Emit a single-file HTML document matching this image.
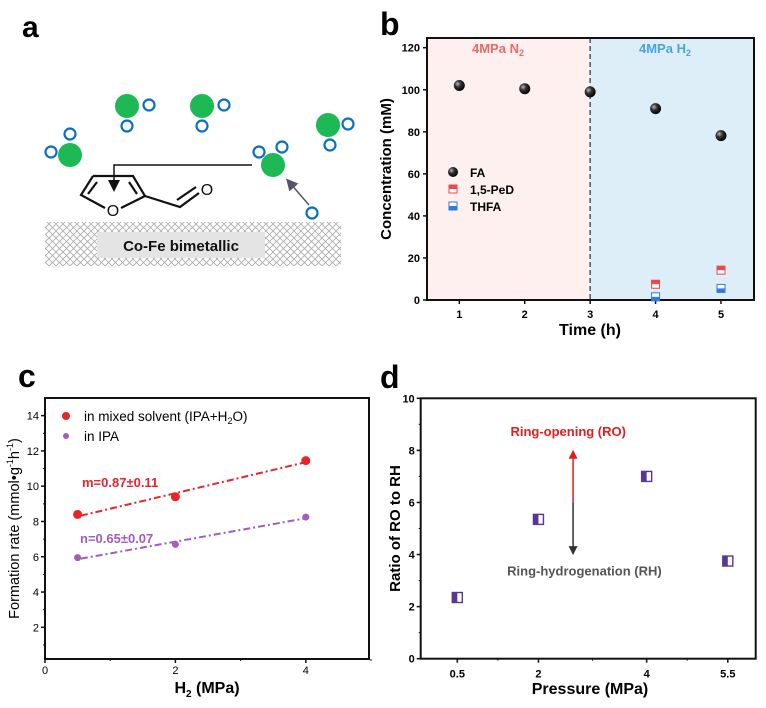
<!DOCTYPE html>
<html><head><meta charset="utf-8"><style>
html,body{margin:0;padding:0;background:#fff;}
svg{display:block;font-family:"Liberation Sans",Arial,sans-serif;}
</style></head><body>
<svg id="fig" width="766" height="708" viewBox="0 0 766 708" xmlns="http://www.w3.org/2000/svg">
<defs>
<pattern id="hatch" width="7" height="7" patternUnits="userSpaceOnUse">
<path d="M0,0 L7,7 M7,0 L0,7" stroke="#aaa" stroke-width="0.8"/>
</pattern>
<marker id="arrB" markerWidth="8" markerHeight="8" refX="4" refY="4" orient="auto"><path d="M0,0 L8,4 L0,8 z" fill="#111"/></marker>
<marker id="arrG" markerWidth="8" markerHeight="8" refX="4" refY="4" orient="auto"><path d="M0,0 L8,4 L0,8 z" fill="#556"/></marker>
<marker id="arrR" markerWidth="6" markerHeight="6" refX="3" refY="3" orient="auto"><path d="M0,0 L6,3 L0,6 z" fill="#e02020"/></marker>
<marker id="arrK" markerWidth="6" markerHeight="6" refX="3" refY="3" orient="auto"><path d="M0,0 L6,3 L0,6 z" fill="#333"/></marker>
<radialGradient id="ball" cx="0.35" cy="0.35" r="0.7"><stop offset="0" stop-color="#bbb"/><stop offset="0.4" stop-color="#333"/><stop offset="1" stop-color="#000"/></radialGradient>
</defs>

<g>
<text x="22" y="37" font-size="30" font-weight="bold">a</text>
<rect x="45" y="222" width="296" height="44" fill="url(#hatch)"/>
<rect x="97" y="232" width="168" height="26" fill="#e4e4e4"/>
<text x="181" y="251" font-size="15" font-weight="bold" text-anchor="middle" fill="#111">Co-Fe bimetallic</text>
<g fill="#1db954">
<circle cx="70" cy="155" r="12"/><circle cx="127" cy="106" r="12"/><circle cx="202" cy="106" r="12"/><circle cx="328" cy="125" r="12"/><circle cx="273" cy="165" r="12"/>
</g>
<g fill="none" stroke="#0a6fc2" stroke-width="2.2">
<circle cx="51" cy="152" r="5.5"/><circle cx="70" cy="134" r="5.5"/>
<circle cx="149" cy="105" r="5.5"/><circle cx="127" cy="126" r="5.5"/>
<circle cx="224" cy="105" r="5.5"/><circle cx="202" cy="126" r="5.5"/>
<circle cx="348" cy="124" r="5.5"/><circle cx="330" cy="145" r="5.5"/>
<circle cx="259" cy="152" r="5.5"/><circle cx="282" cy="147" r="5.5"/>
<circle cx="312" cy="213" r="5.5"/>
</g>
<line x1="309" y1="205" x2="290" y2="183" stroke="#556" stroke-width="1.5" marker-end="url(#arrG)"/>
<polyline points="252,165 114,165 114,186" fill="none" stroke="#111" stroke-width="1.5" marker-end="url(#arrB)"/>
<g fill="none" stroke="#111" stroke-width="2.2">
<path d="M93,176 L133,176 L145,196 L121,208 M105,208 L81,195 L93,176"/>
<path d="M97,182 L88,194 M129,182 L137,194"/>
<path d="M145,196 L180,207 L199,193"/>
<path d="M177,200 L196,187"/>
</g>
<text x="113" y="216" font-size="16" text-anchor="middle" fill="#111">O</text>
<text x="207" y="195" font-size="16" text-anchor="middle" fill="#111">O</text>
</g>

<g id="pb">
<text x="380" y="35" font-size="32" font-weight="bold">b</text>
</g>
<g id="pc">
<text x="18" y="387" font-size="32" font-weight="bold">c</text>
</g>
<g id="pd">
<text x="380" y="388" font-size="32" font-weight="bold">d</text>
</g>
</svg>
<script>
const NS="http://www.w3.org/2000/svg";
function mk(parent,tag,attrs,text){const e=document.createElementNS(NS,tag);for(const k in attrs)e.setAttribute(k,attrs[k]);if(text!==undefined)e.textContent=text;parent.appendChild(e);return e;}

const bTimes=[1,2,3,4,5];
const bFA=[102,100.5,99,91,78.2];
const bPeDTimes=[4,5];
const bPeD=[7.5,14.2];
const bTHFATimes=[4,5];
const bTHFA=[1.5,5.5];
const bYTicks=[0,20,40,60,80,100,120];
const bXTicks=[1,2,3,4,5];

const cPress=[0.5,2,4];
const cMixed=[8.4,9.4,11.45];
const cIPA=[5.95,6.7,8.25];
const cYTicks=[2,4,6,8,10,12,14];
const cXTicks=[0,2,4];

const dPress=[0.5,2,4,5.5];
const dRatio=[2.35,5.35,7.0,3.75];
const dYTicks=[0,2,4,6,8,10];
const dXTicks=["0.5","2","4","5.5"];

(function(){
const g=document.getElementById('pb');
const L=427,R=754,T=38,B=300;
const x=v=>459.3+(v-1)*(721-459.3)/4;
const y=v=>300-v*(300-47.7)/120;
const bg1=mk(g,'rect',{x:L,y:T,width:x(3)-L,height:B-T,fill:'#fdf0ee'});


const bg2=mk(g,'rect',{x:x(3),y:T,width:R-x(3),height:B-T,fill:'#deeef9'});


const dl=mk(g,'line',{x1:x(3),y1:T,x2:x(3),y2:B,stroke:'#555','stroke-width':1.5,'stroke-dasharray':'5,3'});


const fr=mk(g,'rect',{x:L,y:T,width:R-L,height:B-T,fill:'none',stroke:'#111','stroke-width':2});


const t1=mk(g,'text',{x:498,y:53,'font-size':13,'font-weight':'bold',fill:'#e86a6a','text-anchor':'middle'},'4MPa N');


mk(t1,'tspan',{'font-size':9,dy:3},'2');
const t2=mk(g,'text',{x:665,y:53,'font-size':13,'font-weight':'bold',fill:'#4aa3e0','text-anchor':'middle'},'4MPa H');


mk(t2,'tspan',{'font-size':9,dy:3},'2');
bYTicks.forEach(v=>{
  mk(g,'line',{x1:L-4,y1:y(v),x2:L,y2:y(v),stroke:'#111','stroke-width':1.5});
  const t=mk(g,'text',{x:L-7,y:y(v)+4,'font-size':11,'font-weight':'bold','text-anchor':'end'},String(v));
  
  
});
bXTicks.forEach(v=>{
  mk(g,'line',{x1:x(v),y1:B,x2:x(v),y2:B+4,stroke:'#111','stroke-width':1.5});
  const t=mk(g,'text',{x:x(v),y:B+18,'font-size':11,'font-weight':'bold','text-anchor':'middle'},String(v));
  
  
});
const yt=mk(g,'text',{x:0,y:0,'font-size':15,'font-weight':'bold','text-anchor':'middle',transform:`translate(391,${(T+B)/2}) rotate(-90)`},'Concentration (mM)');


const xt=mk(g,'text',{x:590,y:335,'font-size':16,'font-weight':'bold','text-anchor':'middle'},'Time (h)');


bTimes.forEach((t,i)=>{
  const c=mk(g,'circle',{cx:x(t),cy:y(bFA[i]),r:5.5,fill:'url(#ball)'});
  
  
});
function sq(px,py,col,name,topFill){
  const r=mk(g,'rect',{x:px-4,y:py-4,width:8,height:8,fill:'#fff',stroke:col,'stroke-width':1});
  
  
  mk(g,'rect',{x:px-4,y:topFill?py-4:py,width:8,height:4,fill:col});
}
bPeDTimes.forEach((t,i)=>sq(x(t),y(bPeD[i]),'#e8484f','ped-point',true));
bTHFATimes.forEach((t,i)=>sq(x(t),y(bTHFA[i]),'#2f7be0','thfa-point',false));
const lg=mk(g,'g',{});


mk(lg,'circle',{cx:453,cy:172,r:5,fill:'url(#ball)'});
let e=mk(lg,'text',{x:470,y:177,'font-size':12,'font-weight':'bold'},'FA');


mk(lg,'rect',{x:449,y:185,width:8,height:8,fill:'#fff',stroke:'#e8484f'});mk(lg,'rect',{x:449,y:185,width:8,height:4,fill:'#e8484f'});
e=mk(lg,'text',{x:470,y:194,'font-size':12,'font-weight':'bold'},'1,5-PeD');


mk(lg,'rect',{x:449,y:202,width:8,height:8,fill:'#fff',stroke:'#2f7be0'});mk(lg,'rect',{x:449,y:206,width:8,height:4,fill:'#2f7be0'});
e=mk(lg,'text',{x:470,y:211,'font-size':12,'font-weight':'bold'},'THFA');


})();

(function(){
const g=document.getElementById('pc');
const L=45,R=369,T=398,B=659;
const x=v=>45+v*65.2;
const y=v=>662.6-v*17.64;
const fr=mk(g,'rect',{x:L,y:T,width:R-L,height:B-T,fill:'none',stroke:'#111','stroke-width':2});


cYTicks.forEach(v=>{
  mk(g,'line',{x1:L-4,y1:y(v),x2:L,y2:y(v),stroke:'#111','stroke-width':1.5});
  mk(g,'line',{x1:L-2,y1:y(v-1),x2:L,y2:y(v-1),stroke:'#111','stroke-width':1});
  const t=mk(g,'text',{x:L-6,y:y(v)+4,'font-size':11,'text-anchor':'end'},String(v));
  
  
});
cXTicks.forEach(v=>{
  mk(g,'line',{x1:x(v),y1:B,x2:x(v),y2:B+4,stroke:'#111','stroke-width':1.5});
  mk(g,'line',{x1:x(v+1),y1:B,x2:x(v+1),y2:B+2,stroke:'#111','stroke-width':1});
  const t=mk(g,'text',{x:x(v),y:B+15,'font-size':11,'text-anchor':'middle'},String(v));
  
  
});
const yt=mk(g,'text',{x:0,y:0,'font-size':14.5,'text-anchor':'middle',transform:`translate(19,${(T+B)/2}) rotate(-90)`},'Formation rate (mmol•g');


mk(yt,'tspan',{'font-size':9,dy:-6},'-1');
mk(yt,'tspan',{dy:6},'h');
mk(yt,'tspan',{'font-size':9,dy:-6},'-1');
mk(yt,'tspan',{dy:6},')');
const xt=mk(g,'text',{x:207,y:693,'font-size':16,'font-weight':'bold','text-anchor':'middle'},'H');


mk(xt,'tspan',{'font-size':10,dy:4},'2');
mk(xt,'tspan',{dy:-4},' (MPa)');
function fit(xs,ys){const n=xs.length,mx=xs.reduce((a,b)=>a+b)/n,my=ys.reduce((a,b)=>a+b)/n;let sxy=0,sxx=0;xs.forEach((v,i)=>{sxy+=(v-mx)*(ys[i]-my);sxx+=(v-mx)*(v-mx);});const s=sxy/sxx;return [s,my-s*mx];}
function series(ys,col,name){
  const [s,b]=fit(cPress,ys);
  const x0=cPress[0]+0.05,x1=cPress[cPress.length-1];
  const l=mk(g,'line',{x1:x(x0),y1:y(s*x0+b),x2:x(x1),y2:y(s*x1+b),stroke:col,'stroke-width':2,'stroke-dasharray':'7,3,2,3'});
  
  
  cPress.forEach((p,i)=>{
    const c=mk(g,'circle',{cx:x(p),cy:y(ys[i]),r:name==='mixed'?4.5:3.5,fill:col});
    
    
  });
}
series(cMixed,'#e8232a','mixed');
series(cIPA,'#a05cc0','ipa');
let t=mk(g,'text',{x:82,y:487,'font-size':13,'font-weight':'bold',fill:'#e8232a'},'m=0.87±0.11');


t=mk(g,'text',{x:80,y:543,'font-size':13,'font-weight':'bold',fill:'#a05cc0'},'n=0.65±0.07');


const lg=mk(g,'g',{});


mk(lg,'circle',{cx:66,cy:416,r:4,fill:'#e8232a'});
t=mk(lg,'text',{x:84,y:421,'font-size':13.5},'in mixed solvent (IPA+H');


mk(t,'tspan',{'font-size':9,dy:3},'2');
mk(t,'tspan',{dy:-3},'O)');
mk(lg,'circle',{cx:66,cy:436,r:3,fill:'#a05cc0'});
t=mk(lg,'text',{x:84,y:441,'font-size':13.5},'in IPA');


})();

(function(){
const g=document.getElementById('pd');
const L=420.7,R=755.7,T=398.3,B=658.7;
const x=p=>457.3+(p-0.5)*54.1;
const y=v=>658.7-v*26.04;
const fr=mk(g,'rect',{x:L,y:T,width:R-L,height:B-T,fill:'none',stroke:'#111','stroke-width':2});


dYTicks.forEach(v=>{
  mk(g,'line',{x1:L-4,y1:y(v),x2:L,y2:y(v),stroke:'#111','stroke-width':1.5});
  if(v<10)mk(g,'line',{x1:L-2,y1:y(v+1),x2:L,y2:y(v+1),stroke:'#111','stroke-width':1});
  const t=mk(g,'text',{x:L-6,y:y(v)+4,'font-size':11,'font-weight':'bold','text-anchor':'end'},String(v));
  
  
});
dXTicks.forEach(s=>{
  const p=parseFloat(s);
  mk(g,'line',{x1:x(p),y1:B,x2:x(p),y2:B+4,stroke:'#111','stroke-width':1.5});
  const t=mk(g,'text',{x:x(p),y:B+19,'font-size':11,'font-weight':'bold','text-anchor':'middle'},s);
  
  
});
[1.25,3,4.75].forEach(p=>mk(g,'line',{x1:x(p),y1:B,x2:x(p),y2:B+2,stroke:'#111','stroke-width':1}));
const yt=mk(g,'text',{x:0,y:0,'font-size':15,'font-weight':'bold','text-anchor':'middle',transform:`translate(400,${(T+B)/2}) rotate(-90)`},'Ratio of RO to RH');


const xt=mk(g,'text',{x:590,y:694,'font-size':16,'font-weight':'bold','text-anchor':'middle'},'Pressure (MPa)');


dPress.forEach((p,i)=>{
  const r=mk(g,'rect',{x:x(p)-5,y:y(dRatio[i])-5,width:10,height:10,fill:'#fff',stroke:'#5b3596','stroke-width':1.4});
  
  
  mk(g,'rect',{x:x(p)-5,y:y(dRatio[i])-5,width:5,height:10,fill:'#5b3596'});
});
const ax=x(2.64);
const a1=mk(g,'line',{x1:ax,y1:y(6),x2:ax,y2:y(7.85),stroke:'#e02020','stroke-width':1.5,'marker-end':'url(#arrR)'});


const a2=mk(g,'line',{x1:ax,y1:y(6),x2:ax,y2:y(4.15),stroke:'#333','stroke-width':1.5,'marker-end':'url(#arrK)'});


let t=mk(g,'text',{x:x(2.55),y:y(8.55),'font-size':13,'font-weight':'bold',fill:'#e02020','text-anchor':'middle'},'Ring-opening (RO)');


t=mk(g,'text',{x:x(2.85),y:y(3.2),'font-size':13,'font-weight':'bold',fill:'#555','text-anchor':'middle'},'Ring-hydrogenation (RH)');


})();
</script>
</body></html>
